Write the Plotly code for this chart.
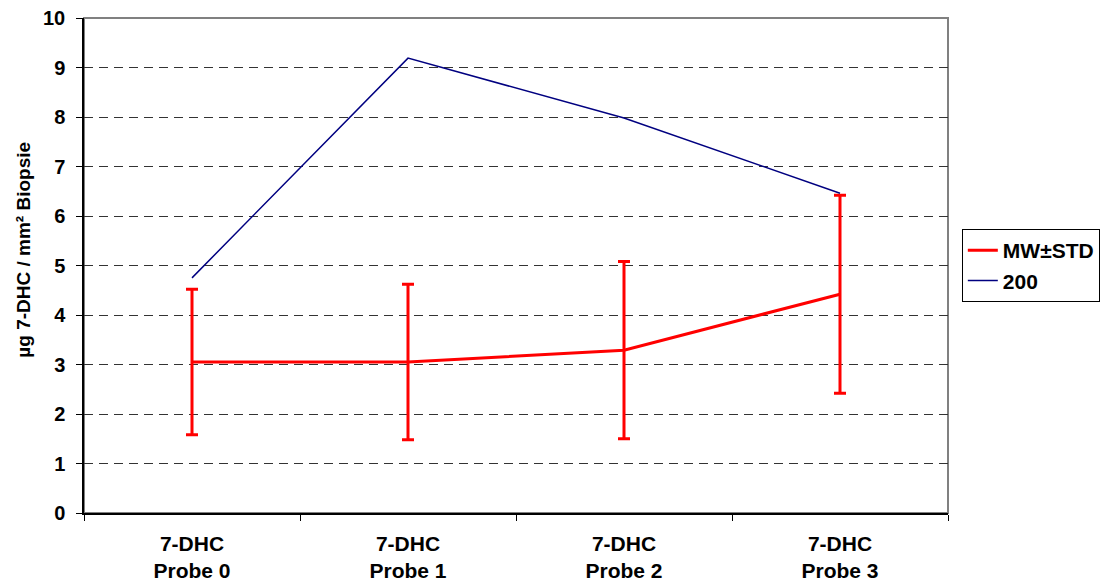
import plotly.graph_objects as go

categories = ["7-DHC<br>Probe 0", "7-DHC<br>Probe 1", "7-DHC<br>Probe 2", "7-DHC<br>Probe 3"]
mw_values = [3.05, 3.05, 3.29, 4.42]
std_values = [1.47, 1.57, 1.79, 2.0]
series_200 = [4.75, 9.19, 7.98, 6.46]
y_ticks = [0, 1, 2, 3, 4, 5, 6, 7, 8, 9, 10]
y_title = "µg 7-DHC / mm² Biopsie"

FONT = "Liberation Sans, Arial, sans-serif"

fig = go.Figure()
fig.add_trace(go.Scatter(
    x=categories, y=mw_values, name="MW±STD", mode="lines",
    line=dict(color="#ff0000", width=3),
    error_y=dict(type="data", array=std_values, visible=True,
                 color="#ff0000", thickness=3, width=6),
))
fig.add_trace(go.Scatter(
    x=categories, y=series_200, name="200", mode="lines",
    line=dict(color="#000080", width=1.5),
))

# gray plot-area frame (top and right edges visible)
fig.add_shape(type="rect", xref="paper", yref="paper", x0=0, x1=1, y0=0, y1=1,
              line=dict(color="#808080", width=2), layer="below")

# vertical axis title
fig.add_annotation(
    text=y_title, xref="paper", yref="paper", x=-0.07, y=0.531,
    xanchor="center", yanchor="middle", textangle=-90, showarrow=False,
    font=dict(family=FONT, size=19, color="black", weight="bold"),
)

fig.update_layout(
    width=1101, height=584,
    margin=dict(l=84, r=153, t=18, b=71, autoexpand=False),
    plot_bgcolor="white", paper_bgcolor="white",
    font=dict(family=FONT, color="black"),
    showlegend=True,
    legend=dict(
        x=1.016, y=0.5, xanchor="left", yanchor="middle",
        bordercolor="black", borderwidth=1,
        font=dict(family=FONT, size=21, color="black", weight="bold"),
        itemwidth=30, tracegroupgap=0,
    ),
    xaxis=dict(
        type="category", tickson="boundaries", range=[-0.5, 3.5],
        showline=True, linecolor="black", linewidth=1.5,
        ticks="outside", ticklen=6, tickcolor="black",
        showgrid=False, zeroline=False, ticklabelstandoff=11,
        tickfont=dict(family=FONT, size=21, weight="bold"),
    ),
    yaxis=dict(
        range=[0, 10], tickvals=y_ticks,
        showline=True, linecolor="black", linewidth=1.5,
        ticks="outside", ticklen=6, tickcolor="black",
        showgrid=True, gridcolor="#333333", griddash="9px,6px", gridwidth=1,
        zeroline=False, ticklabelstandoff=7,
        tickfont=dict(family=FONT, size=20, weight="bold"),
    ),
)

fig.write_html("out.html")
